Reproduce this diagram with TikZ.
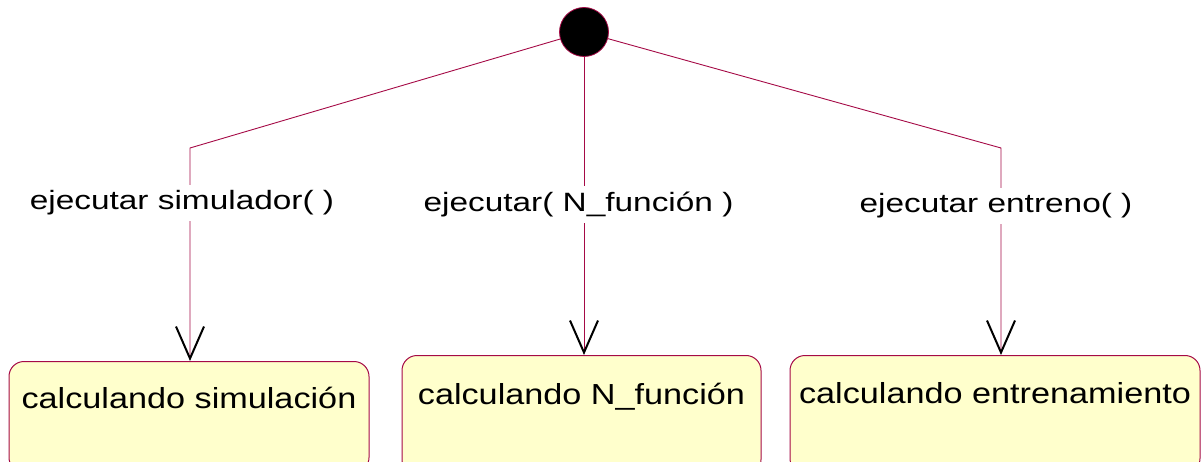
\documentclass[tikz,border=0pt]{standalone}
\usepackage{fontspec}
\setmainfont[FakeStretch=1.18]{Liberation Sans}
\newfontfamily\lblfont[FakeStretch=1.26]{Liberation Sans}
\usetikzlibrary{arrows.meta}
\definecolor{umlline}{RGB}{165,10,70}
\definecolor{umlfill}{RGB}{255,255,204}
\tikzset{
  statebox/.style={draw=umlline, fill=umlfill, rounded corners=15pt, line width=1pt,
    inner sep=0pt, anchor=north, font=\fontsize{29}{34}\selectfont},
  initstate/.style={circle, fill=black, draw=umlline, line width=0.8pt, minimum size=49pt, inner sep=0pt},
  trans/.style={draw=umlline, line width=0.9pt,
    -{Straight Barb[length=32pt, width=28pt, line width=2pt, color=black]}},
  lbl/.style={fill=white, inner xsep=1pt, inner ysep=6pt, anchor=base, font=\lblfont\fontsize{26.5}{31}\selectfont}
}
\begin{document}
\begin{tikzpicture}[x=1pt, y=-1pt]
\useasboundingbox (0,0) rectangle (1201,462);
\clip (0,0) rectangle (1201,462);
\node[initstate] (init) at (584,32) {};
\node[statebox, minimum width=360pt, text height=47pt, text depth=64pt] (b1) at (189,361) {calculando simulación};
\node[statebox, minimum width=359pt, text height=49pt, text depth=70pt] (b2) at (581.5,355) {calculando N\_función};
\node[statebox, minimum width=410pt, text height=48pt, text depth=70pt] (b3) at (995,355) {calculando entrenamiento};
\coordinate (c1) at (190,148);
\coordinate (c3) at (1001,148);
\draw[trans] (init) -- (c1) -- (c1 |- b1.north);
\draw[trans] (init) -- (init |- b2.north);
\draw[trans] (init) -- (c3) -- (c3 |- b3.north);
\node[lbl] (l1) at (182,210) {ejecutar simulador( )};
\node[lbl] (l2) at (578.5,212) {ejecutar( N\_función )};
\node[lbl] (l3) at (996,213) {ejecutar entreno( )};
\end{tikzpicture}
\end{document}
